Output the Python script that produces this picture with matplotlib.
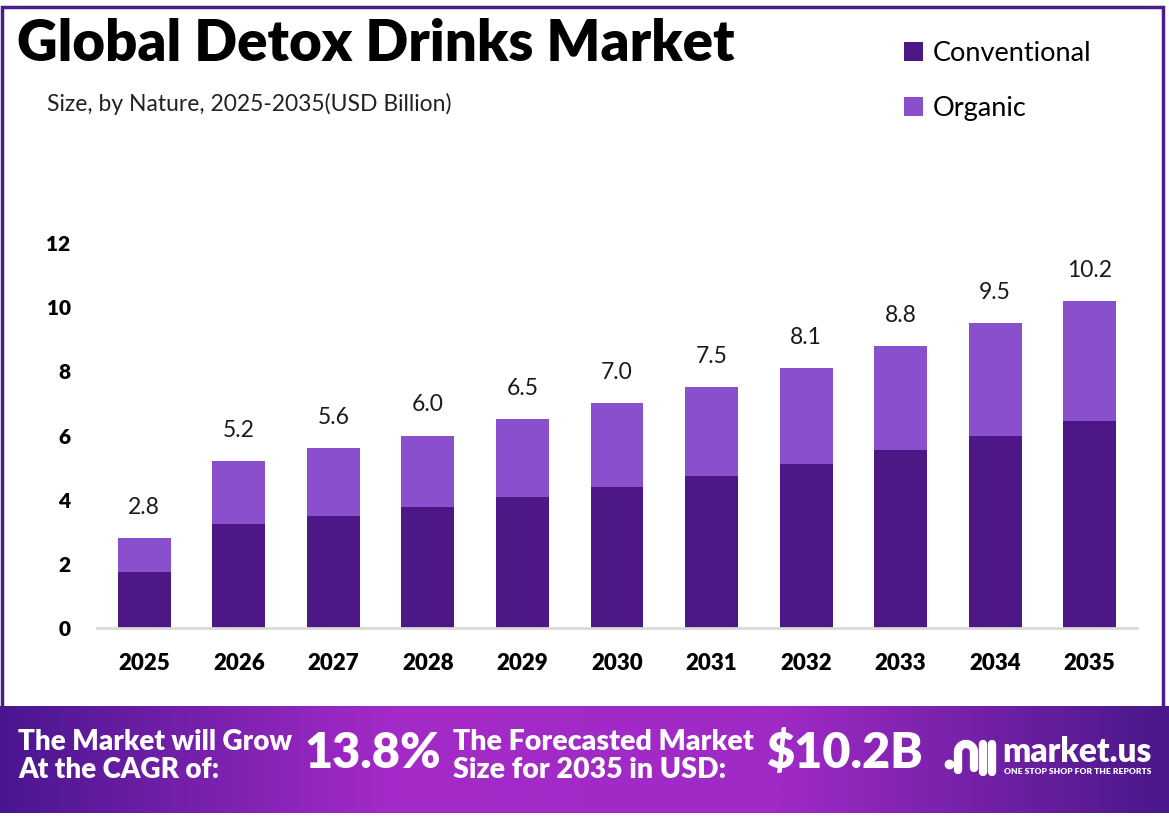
import matplotlib.pyplot as plt
import numpy as np
from matplotlib.colors import LinearSegmentedColormap
from matplotlib.patches import Rectangle

# data (USD Billion)
years = ["2025", "2026", "2027", "2028", "2029", "2030", "2031", "2032", "2033", "2034", "2035"]
conventional = [1.75, 3.25, 3.50, 3.78, 4.08, 4.39, 4.74, 5.11, 5.55, 5.98, 6.45]
organic = [1.05, 1.95, 2.10, 2.22, 2.42, 2.61, 2.76, 2.99, 3.25, 3.52, 3.75]
totals = [2.8, 5.2, 5.6, 6.0, 6.5, 7.0, 7.5, 8.1, 8.8, 9.5, 10.2]

c_conv = "#4e1786"
c_org = "#8a4fcc"
font = "Lato"

W, H = 1169, 821
fig = plt.figure(figsize=(W / 100, H / 100), dpi=100)

# background layer in pixel coords
bg = fig.add_axes([0, 0, 1, 1])
bg.set_xlim(0, W)
bg.set_ylim(H, 0)
bg.axis("off")

# purple frame around the white area
bg.add_patch(Rectangle((2, 7), 1161, 705, fill=False, edgecolor="#4b1d8c", linewidth=2.5))

# gradient banner
grad = LinearSegmentedColormap.from_list("banner", ["#4a1690", "#a42ac8", "#a02ac6", "#4a188a"])
g = np.linspace(0, 1, 400).reshape(1, -1)
bg.imshow(grad(g), extent=(0, W, 813, 706), aspect="auto", zorder=2)

bg.text(17, 44, "Global Detox Drinks Market", fontsize=40.5, fontweight="heavy",
        family=font, va="center", ha="left", color="black")
bg.text(47, 104, "Size, by Nature, 2025-2035(USD Billion)", fontsize=16.5,
        family=font, va="center", ha="left", color="#222222")

white = dict(color="white", family=font, fontweight="heavy", zorder=3)
bg.text(18, 756, "The Market will Grow\nAt the CAGR of:", fontsize=20,
        va="center", ha="left", linespacing=1.05, **white)
bg.text(305, 753, "13.8%", fontsize=35, va="center", ha="left", **white)
bg.text(453, 756, "The Forecasted Market\nSize for 2035 in USD:", fontsize=20.5,
        va="center", ha="left", linespacing=1.05, **white)
bg.text(766, 753, "$10.2B", fontsize=35, va="center", ha="left", **white)

# market.us logo (rough)
lw = 6
bg.plot([949], [764], "o", color="white", markersize=6, zorder=3)
t = np.linspace(np.pi, 0, 30)
bg.plot(np.r_[958, 958 + 8 + 8 * np.cos(t), 974, 974], np.r_[770, 752 - 8 * np.sin(t), 752, 768],
        color="white", linewidth=lw, solid_capstyle="round", zorder=3)
bg.plot([983, 983], [744, 772], color="white", linewidth=lw, solid_capstyle="round", zorder=3)
bg.plot([992, 992], [744, 772], color="white", linewidth=lw, solid_capstyle="round", zorder=3)
bg.text(1002, 752, "market.us", fontsize=24, va="center", ha="left", **white)
bg.text(1004, 772, "ONE STOP SHOP FOR THE REPORTS", fontsize=6.1, va="center", ha="left", **white)

# chart
ax = fig.add_axes([97 / W, (H - 628) / H, (1137 - 97) / W, (628 - 243) / H])
x = np.arange(len(years))
b1 = ax.bar(x, conventional, width=0.56, color=c_conv, label="Conventional", zorder=2)
b2 = ax.bar(x, organic, width=0.56, bottom=conventional, color=c_org, label="Organic", zorder=2)

for xi, tot in zip(x, totals):
    ax.annotate(f"{tot:.1f}", (xi, tot), xytext=(0, 22), textcoords="offset points",
                ha="center", va="center", fontsize=16.5, family=font, color="#1a1a1a")

ax.set_xlim(-0.5, 10.5)
ax.set_ylim(0, 12)
ax.set_yticks(range(0, 13, 2))
ax.set_xticks(x)
ax.set_xticklabels(years)
ax.tick_params(length=0)
ax.tick_params(axis="y", pad=19)
ax.tick_params(axis="x", pad=18)
for lab in ax.get_xticklabels():
    lab.set_fontfamily(font)
    lab.set_fontweight("heavy")
    lab.set_fontsize(16)
for lab in ax.get_yticklabels():
    lab.set_fontfamily(font)
    lab.set_fontweight("heavy")
    lab.set_fontsize(15)
for s in ["top", "right", "left"]:
    ax.spines[s].set_visible(False)
ax.spines["bottom"].set_color("#d9d9d9")
ax.spines["bottom"].set_linewidth(2)
ax.patch.set_alpha(0)

fig.legend(handles=[b1, b2], loc="upper left", bbox_to_anchor=(893 / W, 1 - 30 / H),
           frameon=False, prop={"family": font, "size": 19.5}, handlelength=0.7,
           handleheight=0.7, handletextpad=0.35, labelspacing=1.1, borderaxespad=0)

fig.savefig("out.png", dpi=100)
